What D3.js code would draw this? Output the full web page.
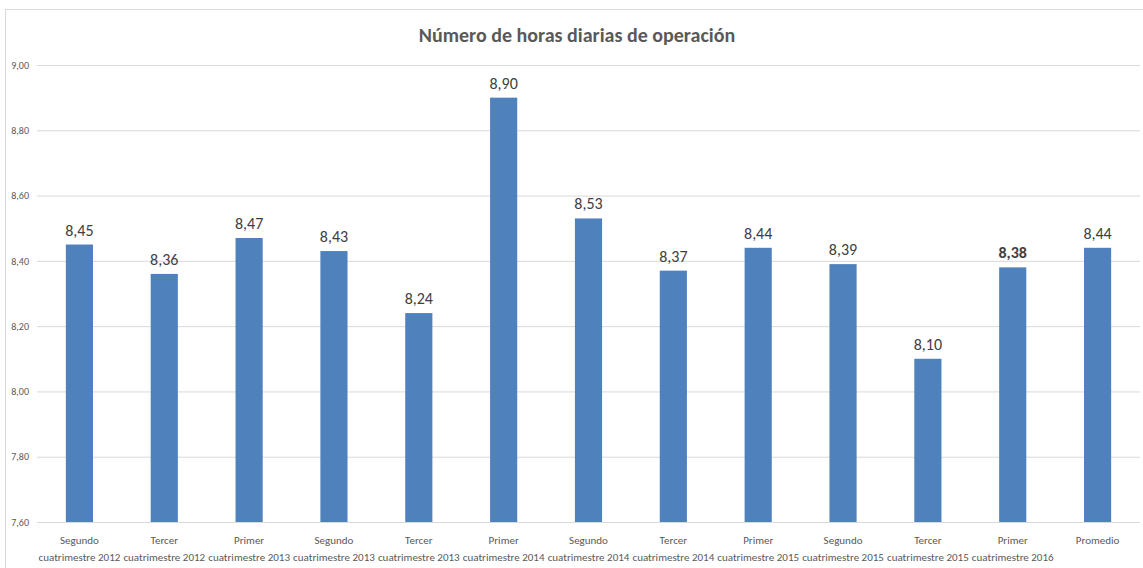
<!DOCTYPE html>
<html>
<head>
<meta charset="utf-8">
<script src="https://cdn.jsdelivr.net/npm/d3@7"></script>
<style>
  html, body { margin: 0; padding: 0; background: #fff; }
  svg { display: block; }
</style>
</head>
<body>
<svg id="chart" width="1143" height="568"></svg>
<script>
const categories = [
  ["Segundo", "cuatrimestre 2012"],
  ["Tercer", "cuatrimestre 2012"],
  ["Primer", "cuatrimestre 2013"],
  ["Segundo", "cuatrimestre 2013"],
  ["Tercer", "cuatrimestre 2013"],
  ["Primer", "cuatrimestre 2014"],
  ["Segundo", "cuatrimestre 2014"],
  ["Tercer", "cuatrimestre 2014"],
  ["Primer", "cuatrimestre 2015"],
  ["Segundo", "cuatrimestre 2015"],
  ["Tercer", "cuatrimestre 2015"],
  ["Primer", "cuatrimestre 2016"],
  ["Promedio"]
];
const values = [8.45, 8.36, 8.47, 8.43, 8.24, 8.90, 8.53, 8.37, 8.44, 8.39, 8.10, 8.38, 8.44];
const boldLabels = [false, false, false, false, false, false, false, false, false, false, false, true, false];
const yTicks = [7.6, 7.8, 8.0, 8.2, 8.4, 8.6, 8.8, 9.0];
const title = "Número de horas diarias de operación";

const svg = d3.select("#chart");
const W = 1143, H = 568;
const font = "Carlito, Calibri, Lato, 'Open Sans', sans-serif";
const plot = { left: 37, right: 1140, top: 65, bottom: 522 };

// chart border
svg.append("rect")
  .attr("x", 5.5).attr("y", 9.5)
  .attr("width", W + 20).attr("height", H + 20)
  .attr("fill", "#fff").attr("stroke", "#d9d9d9").attr("stroke-width", 1);

const idx = categories.map((d, i) => i);
const x = d3.scaleBand().domain(idx).range([plot.left, plot.right])
  .paddingInner(0.68).paddingOuter(0.34);
const y = d3.scaleLinear().domain([7.6, 9.0]).range([plot.bottom, plot.top]);

const fmt = v => d3.format(".2f")(v).replace(".", ",");

// gridlines + y labels
const yAxis = d3.axisLeft(y).tickValues(yTicks).tickSize(-(plot.right - plot.left)).tickPadding(8).tickFormat(fmt);
const gy = svg.append("g").attr("transform", `translate(${plot.left},0)`).call(yAxis);
gy.select(".domain").remove();
gy.selectAll(".tick line").attr("stroke", "#d9d9d9").attr("stroke-width", 1);
gy.selectAll(".tick text").attr("fill", "#595959").attr("font-family", font).attr("font-size", 10);

// bars
svg.append("g").selectAll("rect").data(values).join("rect")
  .attr("x", (d, i) => x(i))
  .attr("width", x.bandwidth())
  .attr("y", d => y(d))
  .attr("height", d => y(7.6) - y(d))
  .attr("fill", "#4f81bd");

// value labels
svg.append("g").selectAll("text").data(values).join("text")
  .attr("x", (d, i) => x(i) + x.bandwidth() / 2)
  .attr("y", d => y(d) - 9)
  .attr("text-anchor", "middle")
  .attr("font-family", font)
  .attr("font-size", 16)
  .attr("font-weight", (d, i) => boldLabels[i] ? "bold" : "normal")
  .attr("fill", "#404040")
  .text(fmt);

// x axis category labels
const xAxis = d3.axisBottom(x).tickSize(0).tickPadding(0).tickFormat(() => "");
const gx = svg.append("g").attr("transform", `translate(0,${plot.bottom})`).call(xAxis);
gx.select(".domain").remove();
gx.selectAll(".tick").each(function(i) {
  const t = d3.select(this).append("text")
    .attr("text-anchor", "middle")
    .attr("font-family", font)
    .attr("font-size", 11)
    .attr("fill", "#595959");
  categories[i].forEach((line, k) => {
    t.append("tspan").attr("x", 0).attr("y", 22 + k * 17).text(line);
  });
});

// title
svg.append("text")
  .attr("x", 577).attr("y", 42)
  .attr("text-anchor", "middle")
  .attr("font-family", font)
  .attr("font-size", 20)
  .attr("font-weight", "bold")
  .attr("fill", "#595959")
  .text(title);
</script>
</body>
</html>
